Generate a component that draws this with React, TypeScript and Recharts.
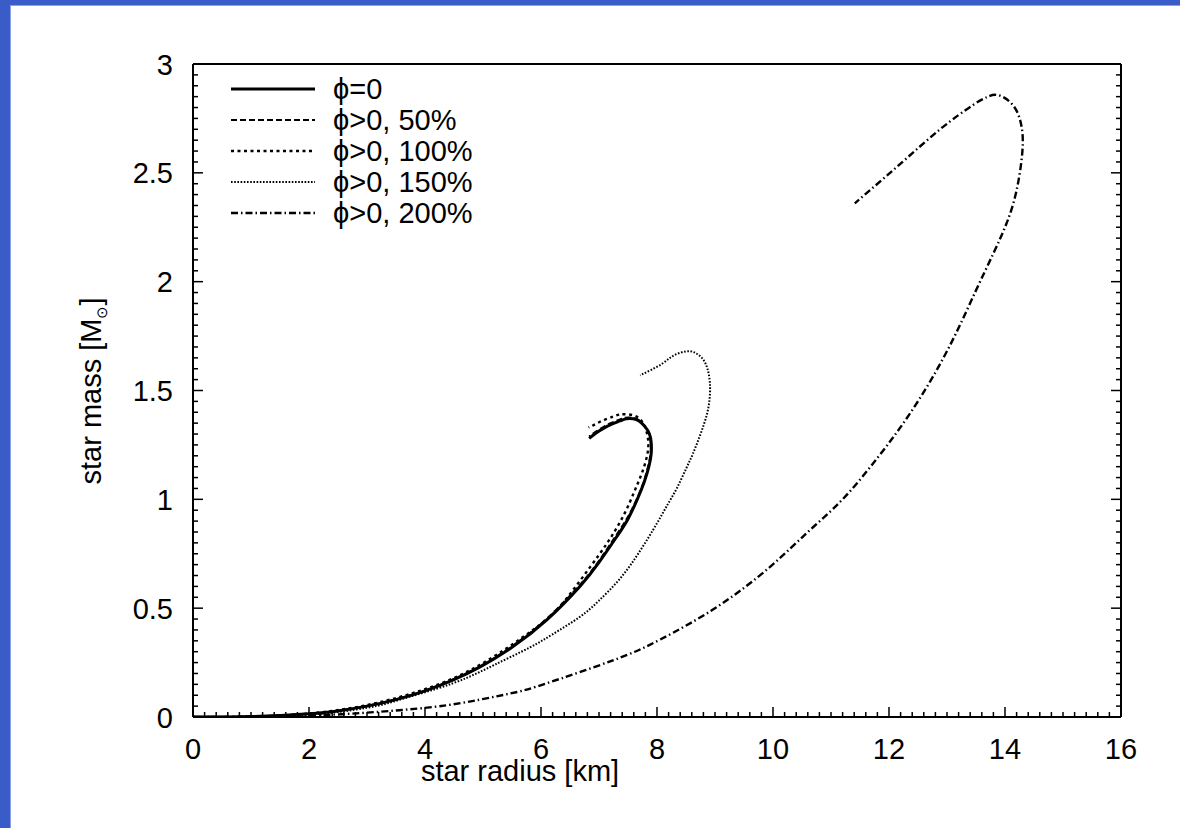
import React from 'react';
import { LineChart, Line, XAxis, YAxis, Legend, Label } from 'recharts';

type P = { r: number; m: number };

const phi0: P[] = [
  { r: 0, m: 0 }, { r: 1, m: 0.002 }, { r: 2, m: 0.015 }, { r: 2.5, m: 0.028 }, { r: 3, m: 0.05 },
  { r: 3.5, m: 0.08 }, { r: 4, m: 0.12 }, { r: 4.5, m: 0.172 }, { r: 4.95, m: 0.23 }, { r: 5.5, m: 0.32 },
  { r: 6.1, m: 0.446 }, { r: 6.67, m: 0.6 }, { r: 7.0, m: 0.71 }, { r: 7.31, m: 0.83 }, { r: 7.5, m: 0.91 },
  { r: 7.66, m: 1.0 }, { r: 7.78, m: 1.08 }, { r: 7.86, m: 1.15 }, { r: 7.9, m: 1.21 }, { r: 7.9, m: 1.26 },
  { r: 7.87, m: 1.3 }, { r: 7.79, m: 1.335 }, { r: 7.69, m: 1.36 }, { r: 7.59, m: 1.37 }, { r: 7.47, m: 1.37 },
  { r: 7.36, m: 1.36 }, { r: 7.22, m: 1.345 }, { r: 7.07, m: 1.325 }, { r: 6.95, m: 1.305 }, { r: 6.83, m: 1.28 },
];

const phi50: P[] = [
  { r: 0, m: 0 }, { r: 1, m: 0.002 }, { r: 2, m: 0.015 }, { r: 2.5, m: 0.029 }, { r: 3, m: 0.051 },
  { r: 3.5, m: 0.082 }, { r: 4, m: 0.122 }, { r: 4.5, m: 0.175 }, { r: 4.95, m: 0.233 }, { r: 5.5, m: 0.325 },
  { r: 6.1, m: 0.452 }, { r: 6.67, m: 0.607 }, { r: 7.0, m: 0.718 }, { r: 7.31, m: 0.84 }, { r: 7.5, m: 0.92 },
  { r: 7.65, m: 1.0 }, { r: 7.77, m: 1.08 }, { r: 7.85, m: 1.155 }, { r: 7.89, m: 1.215 }, { r: 7.89, m: 1.265 },
  { r: 7.86, m: 1.305 }, { r: 7.78, m: 1.34 }, { r: 7.68, m: 1.365 }, { r: 7.57, m: 1.375 }, { r: 7.45, m: 1.375 },
  { r: 7.34, m: 1.365 }, { r: 7.2, m: 1.35 }, { r: 7.06, m: 1.33 }, { r: 6.94, m: 1.31 }, { r: 6.83, m: 1.29 },
];

const phi100: P[] = [
  { r: 0, m: 0 }, { r: 1, m: 0.002 }, { r: 2, m: 0.016 }, { r: 3, m: 0.055 }, { r: 4, m: 0.128 },
  { r: 4.95, m: 0.24 }, { r: 5.86, m: 0.4 }, { r: 6.3, m: 0.5 }, { r: 6.67, m: 0.625 }, { r: 7.0, m: 0.745 },
  { r: 7.24, m: 0.84 }, { r: 7.45, m: 0.94 }, { r: 7.6, m: 1.03 }, { r: 7.71, m: 1.1 }, { r: 7.8, m: 1.17 },
  { r: 7.85, m: 1.24 }, { r: 7.83, m: 1.3 }, { r: 7.76, m: 1.35 }, { r: 7.65, m: 1.38 }, { r: 7.5, m: 1.39 },
  { r: 7.36, m: 1.39 }, { r: 7.24, m: 1.38 }, { r: 7.05, m: 1.36 }, { r: 6.9, m: 1.34 }, { r: 6.82, m: 1.33 },
];

const phi150: P[] = [
  { r: 0, m: 0 }, { r: 1, m: 0.001 }, { r: 2, m: 0.01 }, { r: 3, m: 0.042 }, { r: 3.57, m: 0.08 },
  { r: 4.2, m: 0.13 }, { r: 4.72, m: 0.18 }, { r: 5.2, m: 0.24 }, { r: 5.81, m: 0.32 }, { r: 6.2, m: 0.38 },
  { r: 6.67, m: 0.46 }, { r: 7.0, m: 0.535 }, { r: 7.36, m: 0.635 }, { r: 7.7, m: 0.76 }, { r: 8.0, m: 0.89 },
  { r: 8.17, m: 0.97 }, { r: 8.34, m: 1.05 }, { r: 8.5, m: 1.14 }, { r: 8.62, m: 1.21 }, { r: 8.75, m: 1.3 },
  { r: 8.86, m: 1.39 }, { r: 8.91, m: 1.47 }, { r: 8.91, m: 1.54 }, { r: 8.87, m: 1.6 }, { r: 8.79, m: 1.645 },
  { r: 8.68, m: 1.67 }, { r: 8.57, m: 1.68 }, { r: 8.42, m: 1.675 }, { r: 8.25, m: 1.655 }, { r: 8.1, m: 1.625 },
  { r: 7.9, m: 1.595 }, { r: 7.71, m: 1.57 },
];

const phi200: P[] = [
  { r: 0, m: 0 }, { r: 1, m: 0.001 }, { r: 2, m: 0.006 }, { r: 3, m: 0.02 }, { r: 4.14, m: 0.046 },
  { r: 4.95, m: 0.08 }, { r: 5.59, m: 0.115 }, { r: 6.1, m: 0.155 }, { r: 7.24, m: 0.26 }, { r: 8.05, m: 0.355 },
  { r: 9.03, m: 0.505 }, { r: 9.95, m: 0.69 }, { r: 10.6, m: 0.85 }, { r: 11.2, m: 1.0 }, { r: 11.8, m: 1.19 },
  { r: 12.3, m: 1.37 }, { r: 12.75, m: 1.56 }, { r: 13.15, m: 1.76 }, { r: 13.5, m: 1.96 }, { r: 13.8, m: 2.13 },
  { r: 14.03, m: 2.27 }, { r: 14.2, m: 2.42 }, { r: 14.3, m: 2.6 }, { r: 14.28, m: 2.72 }, { r: 14.14, m: 2.81 },
  { r: 13.88, m: 2.857 }, { r: 13.69, m: 2.848 }, { r: 13.45, m: 2.812 }, { r: 12.88, m: 2.7 }, { r: 12.19, m: 2.54 },
  { r: 11.41, m: 2.36 },
];

const seriesNames = ['ϕ=0', 'ϕ>0, 50%', 'ϕ>0, 100%', 'ϕ>0, 150%', 'ϕ>0, 200%'];
const seriesDash = ['', '6 3', '3 3.5', '1.6 1.6', '7 3 1.5 3'];
const seriesWidth = [3, 2, 2.4, 2, 2.4];
const seriesData = [phi0, phi50, phi100, phi150, phi200];

const xMajorTicks = [0, 2, 4, 6, 8, 10, 12, 14, 16];
const yMajorTicks = [0, 0.5, 1, 1.5, 2, 2.5, 3];
const xAllTicks = Array.from({ length: 81 }, (_, i) => Math.round(i * 2) / 10);
const yAllTicks = Array.from({ length: 61 }, (_, i) => Math.round(i * 5) / 100);

const FONT = 'Liberation Sans, Arial, Helvetica, sans-serif';
const FS = 29;

const isMajor = (v: number, list: number[]) => list.some((t) => Math.abs(t - v) < 1e-6);

const BottomTick = (props: any) => {
  const { x, y, payload } = props;
  const major = isMajor(payload.value, xMajorTicks);
  return (
    <g>
      <line x1={x} x2={x} y1={y} y2={y - (major ? 10 : 5)} stroke="#000" strokeWidth={1.5} />
      {major && (
        <text x={x} y={y + 42} textAnchor="middle" fontSize={FS} fontFamily={FONT} fill="#000">
          {payload.value}
        </text>
      )}
    </g>
  );
};

const TopTick = (props: any) => {
  const { x, y, payload } = props;
  const major = isMajor(payload.value, xMajorTicks);
  return <line x1={x} x2={x} y1={y} y2={y + (major ? 10 : 5)} stroke="#000" strokeWidth={1.5} />;
};

const LeftTick = (props: any) => {
  const { x, y, payload } = props;
  const major = isMajor(payload.value, yMajorTicks);
  return (
    <g>
      <line x1={x} x2={x + (major ? 10 : 5)} y1={y} y2={y} stroke="#000" strokeWidth={1.5} />
      {major && (
        <text x={x - 20} y={y + 10.5} textAnchor="end" fontSize={FS} fontFamily={FONT} fill="#000">
          {payload.value}
        </text>
      )}
    </g>
  );
};

const RightTick = (props: any) => {
  const { x, y, payload } = props;
  const major = isMajor(payload.value, yMajorTicks);
  return <line x1={x} x2={x - (major ? 10 : 5)} y1={y} y2={y} stroke="#000" strokeWidth={1.5} />;
};

const renderLegend = () => (
  <svg width={320} height={170} style={{ display: 'block' }}>
    {seriesNames.map((name, i) => {
      const cy = 19 + i * 31;
      return (
        <g key={name}>
          <line x1={11} x2={95} y1={cy} y2={cy} stroke="#000" strokeWidth={seriesWidth[i]}
            strokeDasharray={seriesDash[i] || undefined} />
          <text x={113} y={cy + 10} fontSize={FS} fontFamily={FONT} fill="#000">{name}</text>
        </g>
      );
    })}
  </svg>
);

const XLabel = (props: any) => (
  <text x={520} y={781} textAnchor="middle" fontSize={FS} fontFamily={FONT} fill="#000">
    star radius [km]
  </text>
);

const YLabel = (props: any) => (
  <text x={0} y={0} transform="translate(101,391) rotate(-90)" textAnchor="middle" fontSize={FS}
    fontFamily={FONT} fill="#000">
    star mass [M<tspan fontSize={15} dy={6}>⊙</tspan><tspan dy={-6}>]</tspan>
  </text>
);

export default function App() {
  return (
    <div style={{ position: 'absolute', left: 0, top: 0, width: 1180, height: 828, background: '#3a5cc8' }}>
      <div style={{ position: 'absolute', left: 10, top: 5, width: 1170, height: 823, background: '#fff',
        borderLeft: '1px solid #8aa2e4', borderTop: '1px solid #8aa2e4', boxSizing: 'border-box' }} />
      <div style={{ position: 'absolute', left: 0, top: 0 }}>
        <LineChart width={1180} height={828} margin={{ top: 54, right: 49, bottom: 71, left: 133 }}>
          <XAxis xAxisId="b" type="number" dataKey="r" domain={[0, 16]} ticks={xAllTicks} interval={0}
            tick={<BottomTick />} tickLine={false} tickSize={0} tickMargin={0} height={40}
            axisLine={{ stroke: '#000', strokeWidth: 2 }} allowDataOverflow>
            <Label content={<XLabel />} />
          </XAxis>
          <XAxis xAxisId="t" orientation="top" type="number" domain={[0, 16]} ticks={xAllTicks} interval={0}
            tick={<TopTick />} tickLine={false} tickSize={0} tickMargin={0} height={10}
            axisLine={{ stroke: '#000', strokeWidth: 2 }} allowDataOverflow />
          <YAxis yAxisId="l" type="number" domain={[0, 3]} ticks={yAllTicks} interval={0}
            tick={<LeftTick />} tickLine={false} tickSize={0} tickMargin={0} width={60}
            axisLine={{ stroke: '#000', strokeWidth: 2 }} allowDataOverflow>
            <Label content={<YLabel />} />
          </YAxis>
          <YAxis yAxisId="r" orientation="right" type="number" domain={[0, 3]} ticks={yAllTicks} interval={0}
            tick={<RightTick />} tickLine={false} tickSize={0} tickMargin={0} width={10}
            axisLine={{ stroke: '#000', strokeWidth: 2 }} allowDataOverflow />
          <Legend layout="vertical" align="center" verticalAlign="middle" content={renderLegend}
            wrapperStyle={{ position: 'absolute', left: 220, top: 70, width: 320, height: 170 }} />
          {seriesData.map((d, i) => (
            <Line key={seriesNames[i]} xAxisId="b" yAxisId="l" data={d} dataKey="m" name={seriesNames[i]}
              type="natural" stroke="#000" strokeWidth={seriesWidth[i]} strokeDasharray={seriesDash[i] || undefined}
              dot={false} activeDot={false} isAnimationActive={false} />
          ))}
        </LineChart>
      </div>
    </div>
  );
}
